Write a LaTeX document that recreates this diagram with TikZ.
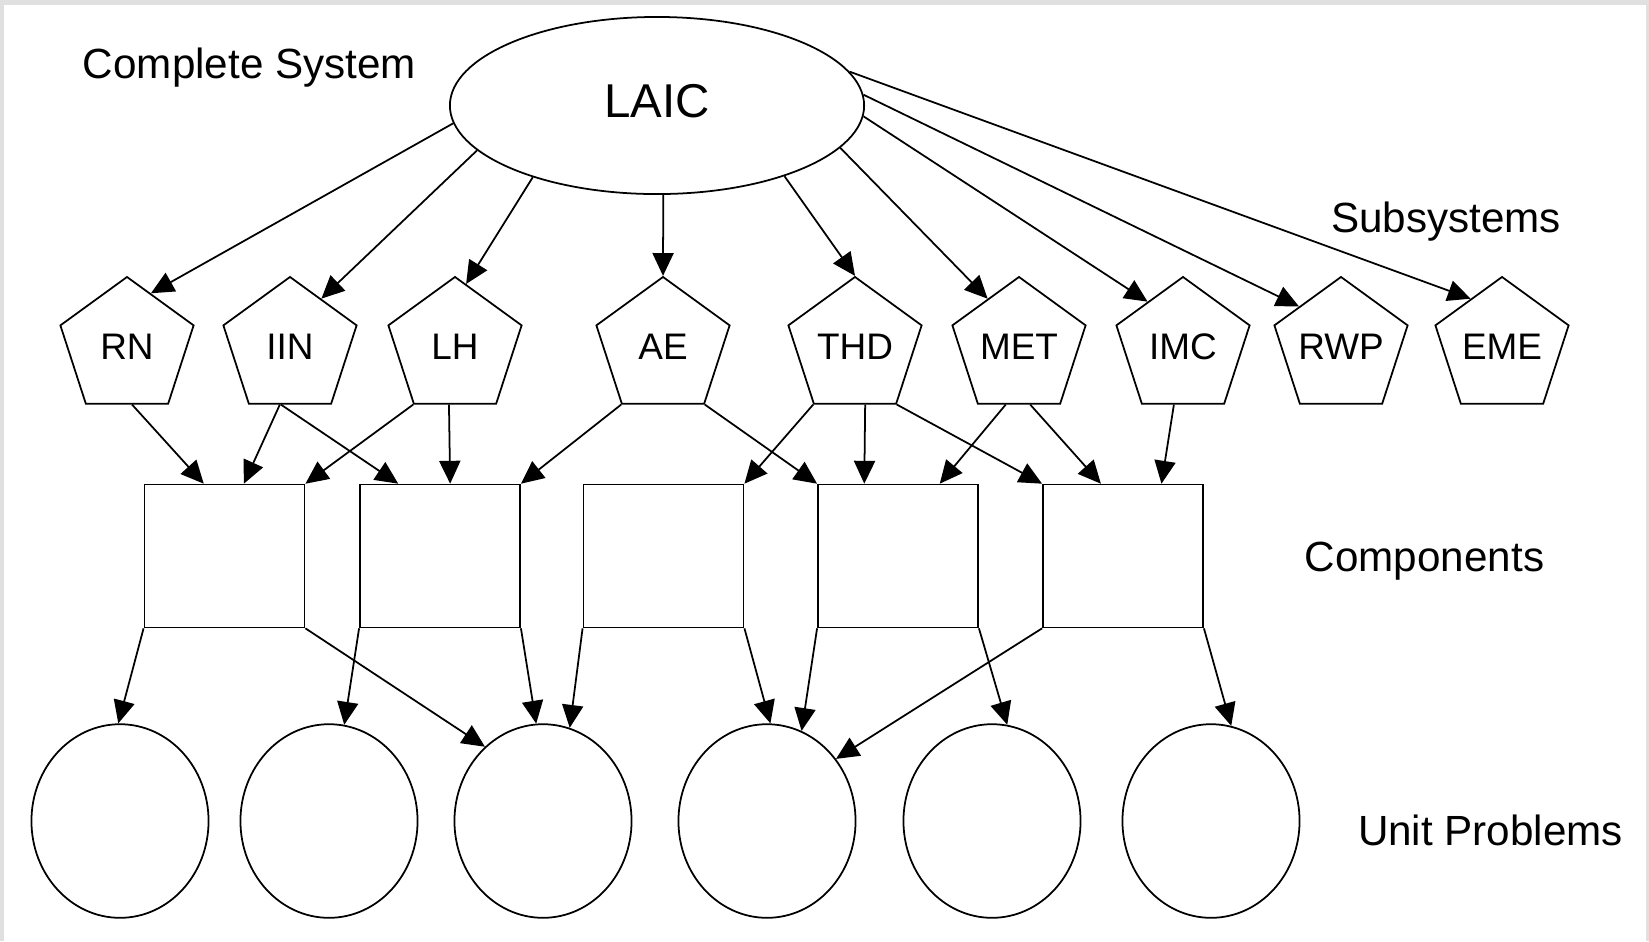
\documentclass[tikz,border=0pt]{standalone}
\usepackage{fontspec}
\setmainfont{Liberation Sans}
\usetikzlibrary{shapes.geometric,arrows.meta}

\begin{document}
\begin{tikzpicture}[x=0.01cm,y=-0.01cm,line width=0.5pt,
    every node/.style={inner sep=0pt},
    subsys/.style={draw,regular polygon,regular polygon sides=5,minimum size=1.4cm,inner sep=-6pt,font=\fontsize{10.5}{12}\selectfont},
    compbox/.style={draw,rectangle,minimum width=1.6cm,minimum height=1.428cm},
    unitcirc/.style={draw,ellipse,minimum width=1.77cm,minimum height=1.935cm},
    levellabel/.style={anchor=base,font=\fontsize{12}{14}\selectfont},
    arr/.style={-{Triangle[length=6.5pt,width=6pt]}}]

    % Frame
    \fill[black!12] (0,0) rectangle (1649,941);
    \fill[white] (4,5) rectangle (1646,941);
    \useasboundingbox (0,0) rectangle (1649,941);

    % Complete system
    \node[draw,ellipse,minimum width=4.14cm,minimum height=1.77cm,text depth=0.1cm,font=\fontsize{13.5}{16}\selectfont] (laic) at (657,105.5) {LAIC};

    % Level labels
    \node[levellabel] (complete) at (249.5,78) {Complete System};
    \node[levellabel] (subsystems) at (1446,232) {Subsystems};
    \node[levellabel] (components) at (1424.5,571) {Components};
    \node[levellabel] (units) at (1490.5,845) {Unit Problems};

    % Subsystems
    \node[subsys] (RN) at (127,347) {RN};
    \node[subsys] (IIN) at (290,347) {IIN};
    \node[subsys] (LH) at (455,347) {LH};
    \node[subsys] (AE) at (663,347) {AE};
    \node[subsys] (THD) at (855,347) {THD};
    \node[subsys] (MET) at (1019,347) {MET};
    \node[subsys] (IMC) at (1183,347) {IMC};
    \node[subsys] (RWP) at (1341,347) {RWP};
    \node[subsys] (EME) at (1502,347) {EME};

    % Components
    \node[compbox] (c1) at (224.5,556) {};
    \node[compbox] (c2) at (440,556) {};
    \node[compbox] (c3) at (663.5,556) {};
    \node[compbox] (c4) at (898,556) {};
    \node[compbox] (c5) at (1123,556) {};

    % Unit problems
    \node[unitcirc] (u1) at (120,821) {};
    \node[unitcirc] (u2) at (329,821) {};
    \node[unitcirc] (u3) at (543,821) {};
    \node[unitcirc] (u4) at (767,821) {};
    \node[unitcirc] (u5) at (992,821) {};
    \node[unitcirc] (u6) at (1211,821) {};

    % System -> subsystems
    \draw[arr] (laic.185) -- (RN.66);
    \draw[arr] (laic.194) -- (IIN.57);
    \draw[arr] (laic.210) -- (LH.80);
    \draw[arr] (laic.274) -- (AE.north);
    \draw[arr] (laic.331) -- (THD.north);
    \draw[arr] (laic.347) -- (MET.123);
    \draw[arr] (laic.357) -- (IMC.128);
    \draw[arr] (laic.3) -- (RWP.136);
    \draw[arr] (laic.10) -- (EME.123);

    % Subsystems -> components
    \draw[arr] (RN.275) -- (c1.106);
    \draw[arr] (IIN.260) -- (c1.75);
    \draw[arr] (IIN.261) -- (c2.120);
    \draw[arr] (LH.corner 3) -- (c1.north east);
    \draw[arr] (LH.264) -- (c2.82);
    \draw[arr] (AE.corner 3) -- (c2.north east);
    \draw[arr] (AE.corner 4) -- (c4.north west);
    \draw[arr] (THD.corner 3) -- (c3.north east);
    \draw[arr] (THD.280) -- (c4.115);
    \draw[arr] (THD.corner 4) -- (c5.north west);
    \draw[arr] (MET.257) -- (c4.60);
    \draw[arr] (MET.281) -- (c5.107);
    \draw[arr] (IMC.261) -- (c5.62);

    % Components -> unit problems
    \draw[arr] (c1.south west) -- (u1.91);
    \draw[arr] (c1.south east) -- (u3.128);
    \draw[arr] (c2.south west) -- (u2.81);
    \draw[arr] (c2.south east) -- (u3.94);
    \draw[arr] (c3.south west) -- (u3.74);
    \draw[arr] (c3.south east) -- (u4.88);
    \draw[arr] (c4.south west) -- (u4.69);
    \draw[arr] (c4.south east) -- (u5.81);
    \draw[arr] (c5.south west) -- (u4.42);
    \draw[arr] (c5.south east) -- (u6.78);
\end{tikzpicture}
\end{document}
